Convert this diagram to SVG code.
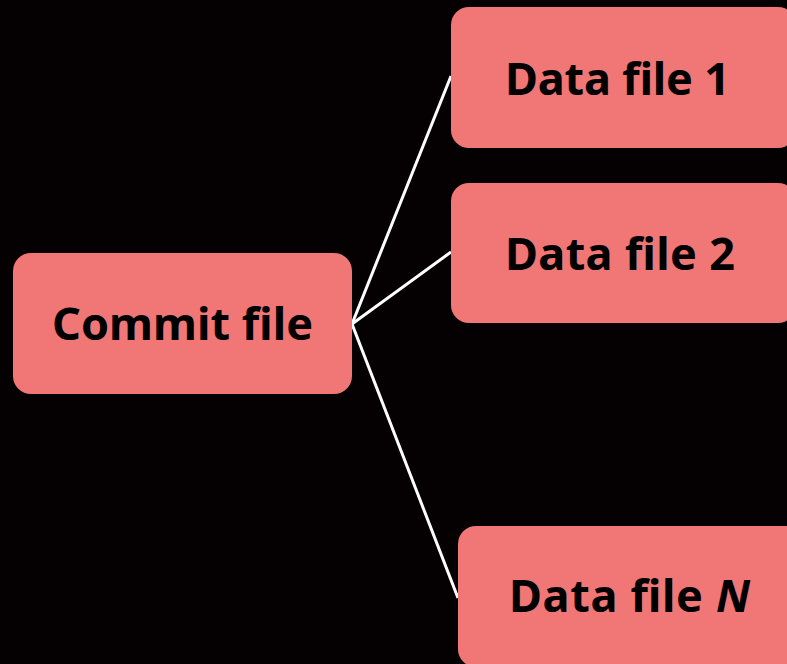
<svg xmlns="http://www.w3.org/2000/svg" width="787" height="664" viewBox="0 0 787 664">
<style>
.box{fill:#F07776;}
.lbl{font-family:"Noto Sans","Open Sans",sans-serif;font-weight:bold;font-size:45px;fill:#000;}
.conn{stroke:#fff;stroke-width:3;fill:none;}
</style>
<rect width="787" height="664" fill="#050102"/>
<g id="connectors">
<line class="conn" x1="352" y1="324" x2="451" y2="76"/>
<line class="conn" x1="352" y1="324" x2="451" y2="252"/>
<line class="conn" x1="352" y1="324" x2="458" y2="598"/>
</g>
<g id="commit">
<rect class="box" x="13" y="253" width="339" height="141" rx="18"/>
<text class="lbl" x="52" y="340" textLength="261">Commit file</text>
</g>
<g id="data1">
<rect class="box" x="451" y="7" width="345" height="141" rx="18"/>
<text class="lbl" x="505" y="95" textLength="225">Data file 1</text>
</g>
<g id="data2">
<rect class="box" x="451" y="183" width="345" height="140" rx="18"/>
<text class="lbl" x="505" y="270" textLength="230">Data file 2</text>
</g>
<g id="dataN">
<rect class="box" x="458" y="526" width="345" height="141" rx="18"/>
<text class="lbl" x="509" y="612" textLength="241">Data file <tspan font-style="italic">N</tspan></text>
</g>
</svg>
